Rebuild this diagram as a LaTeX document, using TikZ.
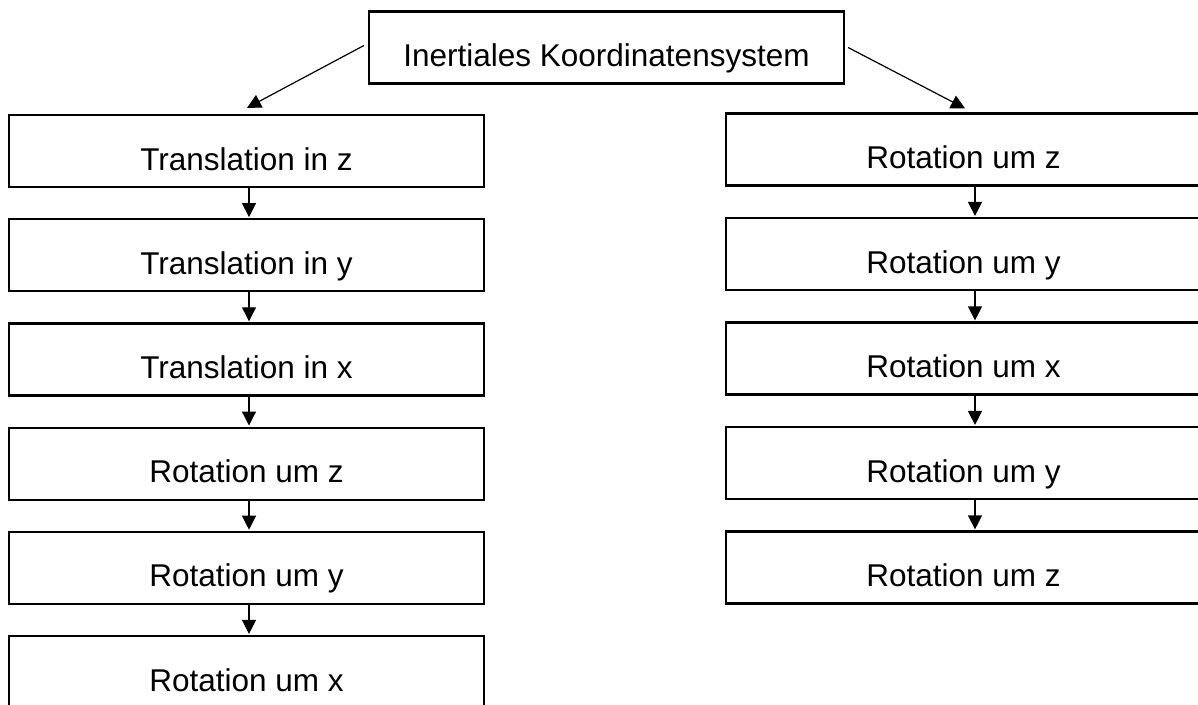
\documentclass[tikz,border=0pt]{standalone}
\usepackage{fontspec}
\setmainfont{Liberation Sans}
\usetikzlibrary{arrows.meta}
\begin{document}
\begin{tikzpicture}[x=1pt,y=-1pt,
  box/.style={draw=black, line width=2.2pt, rectangle, inner sep=0pt,
    minimum width=475pt, text height=55pt, text depth=17pt,
    font=\fontsize{31.5pt}{36pt}\selectfont},
  arr/.style={draw=black, line width=1.2pt, -{Triangle[length=14pt,width=14pt]}}]
\useasboundingbox[fill=white] (0,0) rectangle (1198,704);
\node[box] (top) at (606.5,47.5) {Inertiales Koordinatensystem};
% left column
\node[box] (L1) at (246.5,151) {Translation in z};
\node[box] (L2) at (246.5,255.2) {Translation in y};
\node[box] (L3) at (246.5,359.4) {Translation in x};
\node[box] (L4) at (246.5,463.6) {Rotation um z};
\node[box] (L5) at (246.5,567.8) {Rotation um y};
\node[box] (L6) at (246.5,672) {Rotation um x};
% right column
\node[box] (R1) at (963.5,149.5) {Rotation um z};
\node[box] (R2) at (963.5,254) {Rotation um y};
\node[box] (R3) at (963.5,358.5) {Rotation um x};
\node[box] (R4) at (963.5,463) {Rotation um y};
\node[box] (R5) at (963.5,567.5) {Rotation um z};
% diagonal arrows
\draw[arr] ([xshift=-4pt,yshift=2pt]top.west) -- ([xshift=0.5pt,yshift=6pt]L1.north);
\draw[arr] ([xshift=3pt]top.east) -- ([xshift=1.5pt,yshift=4pt]R1.north);
% vertical arrows
\foreach \a/\b in {L1/L2,L2/L3,L3/L4,L4/L5,L5/L6}
  \draw[arr] ([xshift=2.5pt]\a.south) -- ([xshift=2.5pt,yshift=1pt]\b.north);
\foreach \a/\b in {R1/R2,R2/R3,R3/R4,R4/R5}
  \draw[arr] ([xshift=11.5pt]\a.south) -- ([xshift=11.5pt,yshift=1pt]\b.north);
\end{tikzpicture}
\end{document}
